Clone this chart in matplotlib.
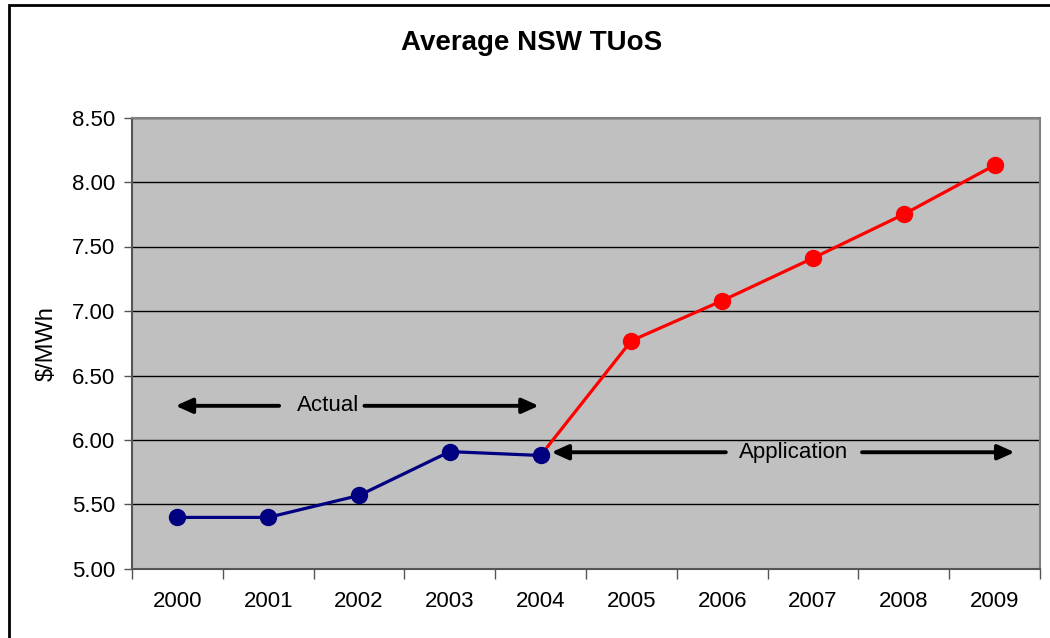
import matplotlib
matplotlib.use("Agg")
import matplotlib.pyplot as plt
from matplotlib.patches import Rectangle

years = ["2000", "2001", "2002", "2003", "2004", "2005", "2006", "2007", "2008", "2009"]
actual = [5.40, 5.40, 5.57, 5.91, 5.88]
application = [5.88, 6.77, 7.08, 7.41, 7.75, 8.13]
yticks = [5.00, 5.50, 6.00, 6.50, 7.00, 7.50, 8.00, 8.50]

plt.rcParams['font.family'] = ['Liberation Sans', 'DejaVu Sans']

fig = plt.figure(figsize=(10.5, 6.38), dpi=100)
W, H = 1050, 638
ax = fig.add_axes([132 / W, 1 - 569 / H, (1040 - 132) / W, (569 - 117.5) / H])
ax.set_facecolor('#C0C0C0')

# outer frame
fig.patches.append(Rectangle((9 / W, -0.05), 1.2, 1 - 5 / H + 0.05, transform=fig.transFigure,
                             fill=False, edgecolor='black', linewidth=2.0, zorder=0))

xa = list(range(len(actual)))
xp = list(range(len(actual) - 1, len(actual) - 1 + len(application)))

ax.plot(xp, application, color='#FF0000', linewidth=2.3, zorder=3)
ax.plot(xp[1:], application[1:], 'o', color='#FF0000', markersize=11.5, zorder=4)
ax.plot(xa, actual, color='#000080', linewidth=2.3, marker='o', markersize=11.5, zorder=5)

ax.set_xlim(-0.5, len(years) - 0.5)
ax.set_ylim(5.0, 8.5)
ax.set_yticks(yticks)
ax.set_yticklabels([f"{v:.2f}" for v in yticks], fontsize=16)
ax.set_xticks(range(len(years)))
ax.set_xticklabels(years, fontsize=16)
ax.tick_params(axis='x', which='major', length=0, pad=16)
ax.set_xticks([i - 0.5 for i in range(len(years) + 1)], minor=True)
ax.tick_params(axis='x', which='minor', length=7, width=1, color='#555555', direction='out')
ax.tick_params(axis='y', length=6, width=1, color='#555555', direction='out', pad=6)

ax.yaxis.grid(True, color='black', linewidth=1)
ax.set_axisbelow(True)
for s in ['left', 'bottom']:
    ax.spines[s].set_color('#555555')
    ax.spines[s].set_linewidth(1.5)
ax.spines['top'].set_color('#808080')
ax.spines['top'].set_linewidth(1.5)
ax.spines['right'].set_color('#808080')
ax.spines['right'].set_linewidth(1.5)

ax.set_ylabel("\\$/MWh", fontsize=17, labelpad=10)

fig.text(532 / W, 1 - 43 / H, "Average NSW TUoS", ha='center', va='center',
         fontsize=20, fontweight='bold')

arrow_kw = dict(arrowstyle='-|>,head_length=1.0,head_width=0.45', color='black',
                linewidth=2.8, shrinkA=0, shrinkB=0)

# Actual annotation
ay = 6.265
ax.text(1.66, ay, "Actual", ha='center', va='center', fontsize=16, zorder=6)
ax.annotate('', xy=(-0.02, ay), xytext=(1.12, ay), arrowprops=arrow_kw)
ax.annotate('', xy=(3.98, ay), xytext=(2.06, ay), arrowprops=arrow_kw)

# Application annotation
py = 5.905
ax.text(6.79, py, "Application", ha='center', va='center', fontsize=16, zorder=6)
ax.annotate('', xy=(4.12, py), xytext=(6.04, py), arrowprops=arrow_kw)
ax.annotate('', xy=(9.22, py), xytext=(7.54, py), arrowprops=arrow_kw)

fig.savefig("out.png", dpi=100)
